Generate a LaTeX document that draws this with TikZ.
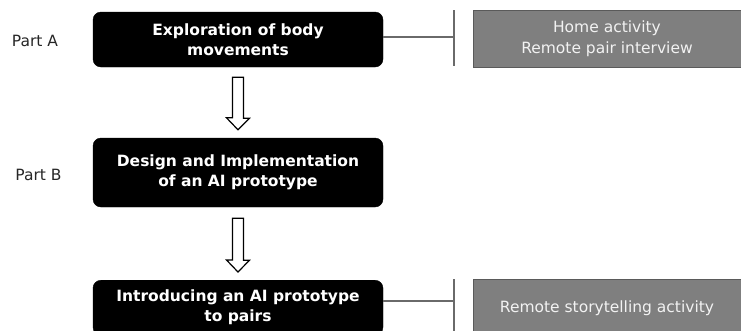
\documentclass[tikz,border=0pt]{standalone}
\usepackage{fontspec}
\setmainfont{DejaVu Sans}
\usetikzlibrary{calc}
\definecolor{boxgray}{HTML}{7F7F7F}
\definecolor{edgegray}{HTML}{5A5A5A}
\definecolor{linegray}{HTML}{6A6A6A}
\definecolor{lighttext}{HTML}{F2F2F2}
\tikzset{
  stage/.style={draw=black, fill=black, rounded corners=8pt, minimum width=290pt,
    text=white, align=center, inner sep=0pt,
    font=\fontsize{15.5}{20}\selectfont\bfseries},
  activity/.style={draw=edgegray, line width=1pt, fill=boxgray, minimum width=268pt, minimum height=57pt,
    text=lighttext, align=center, inner sep=0pt,
    font=\fontsize{15.5}{21}\selectfont},
  partlabel/.style={text=black!85, font=\fontsize{15.5}{20}\selectfont, inner sep=0pt},
  link/.style={draw=linegray, line width=1.4pt},
  hollow/.style={draw=black, line width=1.2pt, fill=white, line join=miter}
}
\begin{document}
\begin{tikzpicture}[x=1pt,y=-1pt]
\useasboundingbox (0,0) rectangle (741,330);
\clip (0,0) rectangle (741,330);
\fill[white] (0,0) rectangle (741,330);
% stages
\node[stage, minimum height=55pt] (a) at (238,39.5) {Exploration of body\\movements};
\node[stage, minimum height=69pt] (b) at (238,172.5) {Design and Implementation\\of an AI prototype};
\node[stage, minimum height=55pt, anchor=north] (c) at (238,280) {Introducing an AI prototype\\to pairs};
% part labels
\node[partlabel] (pa) at (35,41) {Part A};
\node[partlabel] (pb) at (38.5,175) {Part B};
% activities
\node[activity] (ha) at (607,38.5) {Home activity\\Remote pair interview};
\node[activity, anchor=north] (rs) at (607,279) {Remote storytelling activity};
% connectors with bars
\coordinate (ba) at (454,37);
\coordinate (bc) at (454,301);
\draw[link] (a.east |- ba) -- (ba);
\draw[link] ($(ba)+(0,-27)$) -- ($(ba)+(0,29)$);
\draw[link] (c.east |- bc) -- (bc);
\draw[link] ($(bc)+(0,-22)$) -- ($(bc)+(0,40)$);
% hollow arrows
\coordinate (a1) at ($(a.south)+(0,10)$);
\coordinate (a2) at ($(b.north)+(0,-8)$);
\draw[hollow] (a1) ++(-5.5,0) -- ++(11,0) -- ++(0,41) -- ++(6,0) -- (a2) -- ++(-11.5,-12) -- ++(6,0) -- cycle;
\coordinate (b1) at ($(b.south)+(0,11)$);
\coordinate (b2) at ($(c.north)+(0,-8)$);
\draw[hollow] (b1) ++(-5.5,0) -- ++(11,0) -- ++(0,42) -- ++(6,0) -- (b2) -- ++(-11.5,-12) -- ++(6,0) -- cycle;
\end{tikzpicture}
\end{document}
